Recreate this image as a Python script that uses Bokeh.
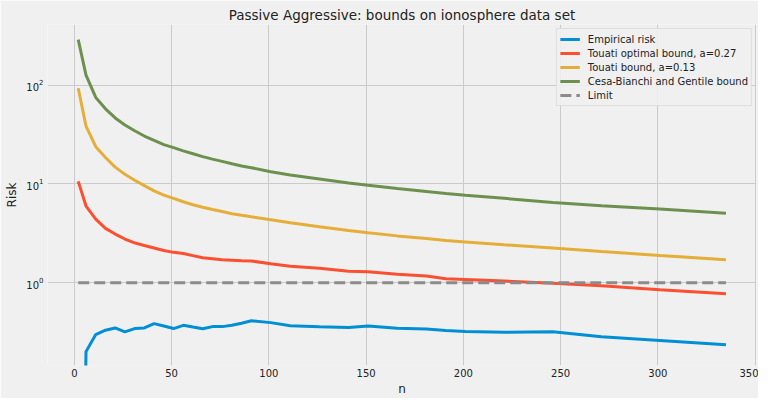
from bokeh.plotting import figure
from bokeh.models import Range1d, FixedTicker, Legend, LegendItem, ColumnDataSource
from bokeh.embed import file_html
from bokeh.resources import INLINE

# ---- data ----
n = [2, 6, 11, 16, 21, 26, 31, 36, 41, 46, 51, 56, 61, 66, 71, 76, 81, 86, 91,
     101, 111, 126, 141, 151, 166, 181, 191, 201, 221, 246, 271, 301, 335]
empirical_risk = [0.0, 0.201, 0.299, 0.331, 0.349, 0.318, 0.344, 0.349, 0.386, 0.365,
                  0.344, 0.371, 0.356, 0.342, 0.360, 0.360, 0.372, 0.389, 0.413,
                  0.395, 0.368, 0.358, 0.352, 0.366, 0.347, 0.341, 0.329, 0.321,
                  0.316, 0.319, 0.284, 0.261, 0.236]
touati_optimal = [10.6, 5.97, 4.40, 3.55, 3.11, 2.77, 2.53, 2.38, 2.25, 2.12,
                  2.03, 1.98, 1.88, 1.79, 1.75, 1.71, 1.69, 1.67, 1.66,
                  1.56, 1.47, 1.40, 1.31, 1.29, 1.22, 1.17, 1.10, 1.08,
                  1.04, 0.99, 0.93, 0.85, 0.776]
touati_bound = [93.0, 38.5, 23.8, 18.5, 14.8, 12.5, 10.9, 9.6, 8.5, 7.7,
                7.15, 6.6, 6.15, 5.8, 5.5, 5.25, 5.0, 4.82, 4.65,
                4.35, 4.05, 3.68, 3.38, 3.21, 2.98, 2.80, 2.68, 2.59,
                2.42, 2.25, 2.07, 1.89, 1.71]
cesa_bianchi = [288.0, 126.0, 75.0, 57.5, 46.5, 39.5, 34.5, 30.5, 27.5, 25.0,
                23.3, 21.6, 20.2, 18.9, 17.8, 16.9, 16.0, 15.2, 14.6,
                13.3, 12.3, 11.2, 10.2, 9.7, 9.0, 8.4, 8.0, 7.7,
                7.15, 6.5, 6.0, 5.56, 5.05]
limit_n = [2, 335]
limit_risk = [1.0, 1.0]

series_names = ["Empirical risk", "Touati optimal bound, a=0.27", "Touati bound, a=0.13",
                "Cesa-Bianchi and Gentile bound", "Limit"]
x_ticks = [0, 50, 100, 150, 200, 250, 300, 350]
y_ticks = [1, 10, 100]
y_tick_labels = ["10\u2070", "10\u00b9", "10\u00b2"]

# ---- styling ----
BG = "#f0f0f0"
GRID = "#cbcbcb"
TXT = "#222222"
FONT = "DejaVu Sans"
colors = ["#008fd5", "#fc4f30", "#e5ae38", "#6d904f", "#8b8b8b"]

p = figure(width=758, height=398, output_backend="svg", toolbar_location=None,
           y_axis_type="log",
           x_range=Range1d(-13.8, 350.7), y_range=Range1d(0.1455, 410.0),
           min_border_left=47, min_border_right=2, min_border_top=24, min_border_bottom=30,
           title="Passive Aggressive: bounds on ionosphere data set")

p.background_fill_color = BG
p.border_fill_color = BG
p.outline_line_color = None

p.title.text_font = FONT
p.title.text_font_size = "13.5px"
p.title.text_font_style = "normal"
p.title.text_color = TXT
p.title.align = "center"
p.title.standoff = 3

# log axis clips non-positive values to a tiny number, like matplotlib does
emp_plot = [max(v, 1e-6) for v in empirical_risk]

src = ColumnDataSource(dict(n=n, emp=emp_plot, opt=touati_optimal,
                            tb=touati_bound, cb=cesa_bianchi))
r0 = p.line("n", "emp", source=src, line_color=colors[0], line_width=3)
r1 = p.line("n", "opt", source=src, line_color=colors[1], line_width=3)
r2 = p.line("n", "tb", source=src, line_color=colors[2], line_width=3)
r3 = p.line("n", "cb", source=src, line_color=colors[3], line_width=3)
r4 = p.line(limit_n, limit_risk, line_color=colors[4], line_width=3, line_dash="11 5")

# axes
p.xaxis.ticker = FixedTicker(ticks=x_ticks, minor_ticks=[])
p.xgrid.ticker = FixedTicker(ticks=x_ticks, minor_ticks=[])
p.yaxis.ticker = FixedTicker(ticks=y_ticks, minor_ticks=[])
p.ygrid.ticker = FixedTicker(ticks=y_ticks, minor_ticks=[])
p.yaxis.major_label_overrides = {str(t): lab for t, lab in zip(y_ticks, y_tick_labels)}

for ax in (p.xaxis, p.yaxis):
    ax.axis_line_color = None
    ax.major_tick_line_color = None
    ax.minor_tick_line_color = None
    ax.major_tick_out = 0
    ax.major_tick_in = 0
    ax.minor_tick_out = 0
    ax.major_label_text_font = FONT
    ax.major_label_text_font_size = "10px"
    ax.major_label_text_color = TXT
    ax.axis_label_text_font = FONT
    ax.axis_label_text_font_size = "12px"
    ax.axis_label_text_font_style = "normal"
    ax.axis_label_text_color = TXT

p.xaxis.axis_label = "n"
p.yaxis.axis_label = "Risk"
p.xaxis.major_label_standoff = 3
p.xaxis.axis_label_standoff = 2
p.yaxis.major_label_standoff = 4
p.yaxis.axis_label_standoff = 4

p.xgrid.grid_line_color = GRID
p.ygrid.grid_line_color = GRID
p.xgrid.grid_line_width = 1
p.ygrid.grid_line_width = 1

legend = Legend(items=[LegendItem(label=name, renderers=[r])
                       for name, r in zip(series_names, [r0, r1, r2, r3, r4])],
                location="top_right")
legend.margin = 4
legend.padding = 3
legend.spacing = 0
legend.label_height = 14
legend.glyph_height = 14
legend.glyph_width = 20
legend.label_standoff = 8
legend.label_text_font = FONT
legend.label_text_font_size = "10px"
legend.label_text_color = TXT
legend.background_fill_color = BG
legend.background_fill_alpha = 0.9
legend.border_line_color = "#cccccc"
legend.border_line_width = 1
p.add_layout(legend)

open("out.html", "w").write(file_html(p, INLINE))
